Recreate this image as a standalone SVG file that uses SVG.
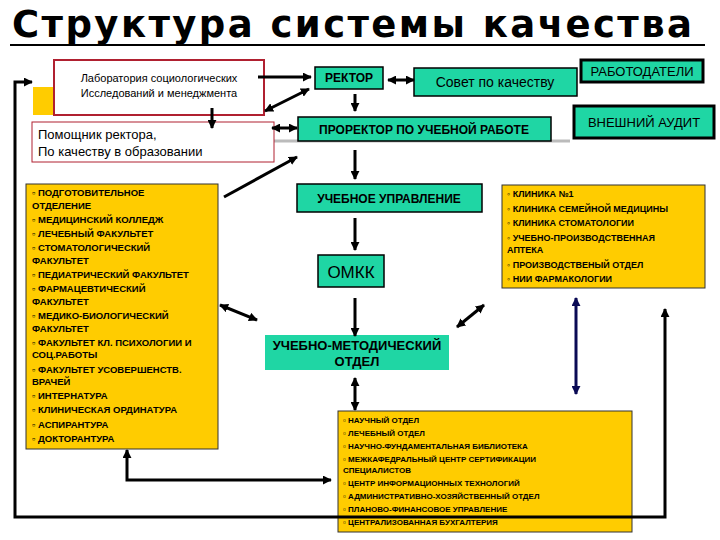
<svg xmlns="http://www.w3.org/2000/svg" width="720" height="540" viewBox="0 0 720 540">
<defs>
<style>
.t{font-family:"Liberation Sans",Arial,sans-serif;fill:#000}
.b{font-weight:bold}
.g{fill:#1fd6a4;stroke:#000;stroke-width:1.5}
.gk{fill:#1fd6a4;stroke:#000;stroke-width:3}
.y{fill:#ffcc00;stroke:#333;stroke-width:1}
.c{stroke:#000;stroke-width:3;fill:none}
.cn{stroke:#0a0a55;stroke-width:3;fill:none}
</style>
<marker id="a" viewBox="0 0 10 10" refX="9" refY="5" markerWidth="3" markerHeight="3" orient="auto-start-reverse"><path d="M0,0L10,5L0,10z" fill="#000"/></marker>
<marker id="an" viewBox="0 0 10 10" refX="9" refY="5" markerWidth="3" markerHeight="3" orient="auto-start-reverse"><path d="M0,0L10,5L0,10z" fill="#0a0a55"/></marker>
</defs>
<rect width="720" height="540" fill="#fff"/>
<text class="t b" x="12" y="37" font-size="37" font-family="'DejaVu Sans',sans-serif" style="font-family:'DejaVu Sans',sans-serif;font-weight:900" textLength="680">Структура системы качества</text>
<line x1="10" y1="45" x2="705" y2="45" stroke="#000" stroke-width="2"/>
<rect x="33" y="87" width="22" height="28" fill="#ffcc00"/>
<line x1="274" y1="141" x2="570" y2="141" stroke="#bbb" stroke-width="3"/>
<g id="lab"><rect x="54" y="60" width="210" height="55" fill="#fff" stroke="#b02030" stroke-width="2"/>
<text class="t" x="159" y="82" font-size="11" text-anchor="middle">Лаборатория социологических</text>
<text class="t" x="159" y="97" font-size="11" text-anchor="middle">Исследований и менеджмента</text></g>
<g id="pom"><rect x="32" y="122" width="242" height="40" fill="#fff" stroke="#b02030" stroke-width="1"/>
<text class="t" x="38" y="139" font-size="13">Помощник ректора,</text>
<text class="t" x="38" y="156" font-size="13">По качеству в образовании</text></g>
<g id="fac"><rect class="y" x="26" y="184" width="192" height="265"/>
<g class="t b" font-size="9.5">
<text x="32" y="196">▫ ПОДГОТОВИТЕЛЬНОЕ</text><text x="32" y="209">ОТДЕЛЕНИЕ</text>
<text x="32" y="223">▫ МЕДИЦИНСКИЙ КОЛЛЕДЖ</text><text x="32" y="237">▫ ЛЕЧЕБНЫЙ ФАКУЛЬТЕТ</text>
<text x="32" y="251">▫ СТОМАТОЛОГИЧЕСКИЙ</text><text x="32" y="264">ФАКУЛЬТЕТ</text>
<text x="32" y="278">▫ ПЕДИАТРИЧЕСКИЙ ФАКУЛЬТЕТ</text>
<text x="32" y="292">▫ ФАРМАЦЕВТИЧЕСКИЙ</text><text x="32" y="305">ФАКУЛЬТЕТ</text>
<text x="32" y="319">▫ МЕДИКО-БИОЛОГИЧЕСКИЙ</text><text x="32" y="332">ФАКУЛЬТЕТ</text>
<text x="32" y="346">▫ ФАКУЛЬТЕТ КЛ. ПСИХОЛОГИИ  И</text><text x="32" y="358">СОЦ.РАБОТЫ</text>
<text x="32" y="373">▫ ФАКУЛЬТЕТ УСОВЕРШЕНСТВ.</text><text x="32" y="385">ВРАЧЕЙ</text>
<text x="32" y="399">▫ ИНТЕРНАТУРА</text><text x="32" y="413">▫ КЛИНИЧЕСКАЯ ОРДИНАТУРА</text>
<text x="32" y="428">▫ АСПИРАНТУРА</text><text x="32" y="442">▫ ДОКТОРАНТУРА</text></g></g>
<g id="rector"><rect class="g" x="315" y="67" width="68" height="22"/><text class="t b" x="349" y="82" font-size="12" text-anchor="middle">РЕКТОР</text></g>
<g id="sovet"><rect class="g" x="414" y="68" width="163" height="28" stroke-width="1"/><text class="t" x="495" y="87" font-size="14" text-anchor="middle">Совет по качеству</text></g>
<g id="rabot"><rect class="gk" x="581" y="60" width="122" height="22"/><text class="t" x="642" y="76" font-size="13" text-anchor="middle">РАБОТОДАТЕЛИ</text></g>
<g id="prorector"><rect class="g" x="298" y="117" width="253" height="24"/><text class="t b" x="424" y="134" font-size="12" text-anchor="middle">ПРОРЕКТОР ПО УЧЕБНОЙ РАБОТЕ</text></g>
<g id="audit"><rect class="gk" x="574" y="106" width="140" height="32"/><text class="t" x="644" y="127" font-size="13" text-anchor="middle">ВНЕШНИЙ АУДИТ</text></g>
<g id="uu"><rect class="g" x="297" y="184" width="185" height="28"/><text class="t b" x="389" y="203" font-size="12" text-anchor="middle">УЧЕБНОЕ УПРАВЛЕНИЕ</text></g>
<g id="clinics"><rect class="y" x="502" y="185" width="203" height="103"/>
<g class="t b" font-size="9">
<text x="507" y="197">◦ КЛИНИКА №1</text><text x="507" y="212">◦ КЛИНИКА СЕМЕЙНОЙ МЕДИЦИНЫ</text>
<text x="507" y="226">◦ КЛИНИКА СТОМАТОЛОГИИ</text><text x="507" y="241">◦ УЧЕБНО-ПРОИЗВОДСТВЕННАЯ</text>
<text x="507" y="253">АПТЕКА</text><text x="507" y="268">◦ ПРОИЗВОДСТВЕНЫЙ ОТДЕЛ</text>
<text x="507" y="282">◦ НИИ ФАРМАКОЛОГИИ</text></g></g>
<g id="omkk"><rect class="g" x="318" y="255" width="66" height="32"/><text class="t" x="351" y="278" font-size="17" text-anchor="middle">ОМКК</text></g>
<g id="umo"><rect x="265" y="335" width="184" height="35" fill="#1fd6a4"/>
<text class="t b" x="357" y="350" font-size="13" text-anchor="middle">УЧЕБНО-МЕТОДИЧЕСКИЙ</text>
<text class="t b" x="357" y="366" font-size="13" text-anchor="middle">ОТДЕЛ</text></g>
<g id="depts"><rect class="y" x="338" y="411" width="294" height="121"/>
<g class="t b" font-size="8">
<text x="343" y="423">▫ НАУЧНЫЙ ОТДЕЛ</text><text x="343" y="436">▫ ЛЕЧЕБНЫЙ ОТДЕЛ</text>
<text x="343" y="449">▫ НАУЧНО-ФУНДАМЕНТАЛЬНАЯ БИБЛИОТЕКА</text>
<text x="343" y="462">▫ МЕЖКАФЕДРАЛЬНЫЙ ЦЕНТР СЕРТИФИКАЦИИ</text><text x="343" y="473">СПЕЦИАЛИСТОВ</text>
<text x="343" y="486">▫ ЦЕНТР ИНФОРМАЦИОННЫХ ТЕХНОЛОГИЙ</text>
<text x="343" y="499">▫ АДМИНИСТРАТИВНО-ХОЗЯЙСТВЕННЫЙ ОТДЕЛ</text>
<text x="343" y="512">▫ ПЛАНОВО-ФИНАНСОВОЕ УПРАВЛЕНИЕ</text>
<text x="343" y="525">▫ ЦЕНТРАЛИЗОВАННАЯ БУХГАЛТЕРИЯ</text></g></g>
<g id="connectors">
<line class="c" x1="258" y1="77" x2="311" y2="77" marker-end="url(#a)"/>
<line class="c" x1="265" y1="111" x2="309" y2="89" marker-start="url(#a)" marker-end="url(#a)"/>
<line class="c" x1="212" y1="108" x2="212" y2="128" marker-end="url(#a)"/>
<line class="c" x1="272" y1="128" x2="297" y2="128" marker-start="url(#a)" marker-end="url(#a)"/>
<line class="c" x1="224" y1="197" x2="297" y2="157" marker-end="url(#a)"/>
<line class="c" x1="388" y1="80" x2="414" y2="80" marker-start="url(#a)" marker-end="url(#a)"/>
<line class="c" x1="355" y1="94" x2="355" y2="111" marker-end="url(#a)"/>
<line class="c" x1="355" y1="150" x2="355" y2="179" marker-end="url(#a)"/>
<line class="c" x1="355" y1="218" x2="355" y2="250" marker-end="url(#a)"/>
<line class="c" x1="355" y1="298" x2="355" y2="336" marker-end="url(#a)"/>
<line class="c" x1="220" y1="305" x2="257" y2="320" marker-start="url(#a)" marker-end="url(#a)"/>
<line class="c" x1="457" y1="327" x2="484" y2="305" marker-start="url(#a)" marker-end="url(#a)"/>
<line class="cn" x1="576" y1="298" x2="576" y2="394" marker-start="url(#an)" marker-end="url(#an)"/>
<line class="c" x1="355" y1="378" x2="355" y2="410" marker-start="url(#a)" marker-end="url(#a)"/>
<polyline class="c" points="127,450 127,480 331,480" marker-start="url(#a)" marker-end="url(#a)"/>
<polyline class="c" points="32,82 15,82 15,517 665,517 665,309" marker-start="url(#a)" marker-end="url(#a)"/>
</g>
</svg>
